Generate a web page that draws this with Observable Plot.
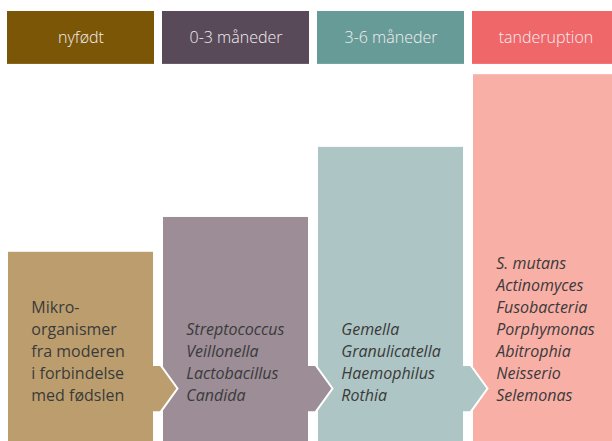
<!DOCTYPE html>
<html><head><meta charset="utf-8">
<script src="https://cdn.jsdelivr.net/npm/d3@7"></script>
<script src="https://cdn.jsdelivr.net/npm/@observablehq/plot@0.6"></script>
<style>html,body{margin:0;padding:0;overflow:hidden;background:#fff}</style>
</head><body><div id="chart"></div>
<script>
// ---- data ----
const stages = ["nyfødt", "0-3 måneder", "3-6 måneder", "tanderuption"];
const levels = [44, 52.1, 68.4, 85.3];
const headerFrom = 87.7, headerTo = 100;
const organisms = [
  ["Mikro-", "organismer", "fra moderen", "i forbindelse", "med fødslen"],
  ["Streptococcus", "Veillonella", "Lactobacillus", "Candida"],
  ["Gemella", "Granulicatella", "Haemophilus", "Rothia"],
  ["S. mutans", "Actinomyces", "Fusobacteria", "Porphymonas", "Abitrophia", "Neisserio", "Selemonas"]
];
const italicText = [false, true, true, true];
const headerColors = ["#7b5606", "#594a5a", "#679b98", "#f0676a"];
const barColors = ["#bc9e6e", "#9c8d96", "#adc5c4", "#f8afa6"];

const table = stages.map((s, i) => ({
  stage: s, level: levels[i], lines: organisms[i], italic: italicText[i],
  head: headerColors[i], bar: barColors[i]
}));

const font = "'Open Sans', sans-serif";
const plot = Plot.plot({
  width: 612, height: 441,
  marginTop: 0, marginBottom: 0, marginLeft: 0, marginRight: 0,
  style: {fontFamily: font, background: "#fff"},
  x: {type: "band", domain: stages, range: [8, 618.5], paddingInner: 0.0613, paddingOuter: 0, axis: null},
  y: {domain: [0, 100], range: [441, 11], axis: null},
  color: {type: "identity"},
  marks: [
    Plot.barY(table, {x: "stage", y1: () => 0, y2: "level", fill: "bar"}),
    Plot.barY(table, {x: "stage", y1: () => headerFrom, y2: () => headerTo, fill: "head", insetLeft: -1, insetRight: -1}),
    Plot.text(table, {x: "stage", y: () => (headerFrom + headerTo) / 2, text: "stage", fill: "#f4eef0",
      fontSize: 16, lineAnchor: "middle", fontWeight: 300}),
    Plot.text(table.filter(d => !d.italic), {x: "stage", y: () => 0, dy: -41, dx: -49.7,
      text: d => d.lines.join("\n"), textAnchor: "start", lineAnchor: "bottom", lineHeight: 1.375,
      fontSize: 16, fill: "#3b3a3b"}),
    Plot.text(table.filter(d => d.italic), {x: "stage", y: () => 0, dy: -41, dx: -49.7,
      text: d => d.lines.join("\n"), textAnchor: "start", lineAnchor: "bottom", lineHeight: 1.375,
      fontSize: 16, fontStyle: "italic", fill: "#3b3a3b"})
  ]
});

// arrows between consecutive stages, placed with the plot's scales
const xs = plot.scale("x"), ys = plot.scale("y");
const bw = xs.bandwidth;
const yTop = ys.apply(17.7), yBot = ys.apply(6.7), yMid = (yTop + yBot) / 2;
const g = d3.select(plot).append("g");
stages.slice(0, -1).forEach((s, i) => {
  const xr = xs.apply(s) + bw;
  const pts = [[xr, yTop], [xr + 7.5, yTop], [xr + 24.5, yMid], [xr + 7.5, yBot], [xr, yBot]];
  g.append("path").attr("d", "M" + pts.map(p => p.join(",")).join("L") + "Z")
    .attr("fill", barColors[i]);
  g.append("path").attr("d", "M" + pts.map(p => p.join(",")).join("L"))
    .attr("fill", "none").attr("stroke", "#fff").attr("stroke-width", 2).attr("stroke-linejoin", "miter");
});
// bring text to front
d3.select(plot).selectAll("g[aria-label='text']").raise();

document.getElementById("chart").appendChild(plot);
</script>
</body></html>
